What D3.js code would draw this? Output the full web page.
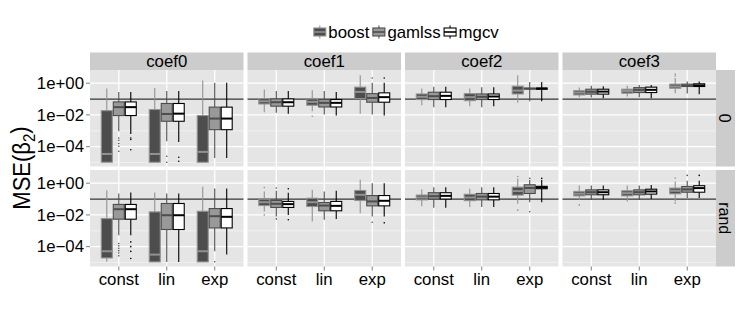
<!DOCTYPE html>
<html>
<head>
<meta charset="utf-8">
<script src="https://cdn.jsdelivr.net/npm/d3@7"></script>
<style>
  body { margin: 0; background: #fff; }
  text { font-family: "Liberation Sans", Arial, sans-serif; fill: #000; }
</style>
</head>
<body>
<div id="chart"></div>
<script>
// Facets, categories, groups
const coefs = ["coef0", "coef1", "coef2", "coef3"];
const rowLabels = ["0", "rand"];
const designs = ["const", "lin", "exp"];
const methods = ["boost", "gamlss", "mgcv"];
const yTicks = [1, 1e-2, 1e-4];
const yTickLabels = ["1e+00", "1e\u221202", "1e\u221204"];
const yMinor = [1e-1, 1e-3, 1e-5];
const refLine = 0.1;

// log10(MSE) per box: [lower whisker, q1, median, q3, upper whisker]
// order: const (boost, gamlss, mgcv), lin (...), exp (...)
const stats_0_coef0 = [
  [-5.0, -4.98, -4.46, -1.73, -0.34], [-3.03, -2.04, -1.51, -1.18, -0.55], [-3.2, -2.04, -1.51, -1.18, -0.55],
  [-5.0, -4.98, -4.46, -1.66, -0.30], [-3.66, -2.4, -1.94, -1.28, -0.5], [-3.7, -2.4, -1.92, -1.28, -0.5],
  [-5.0, -4.98, -4.33, -2.04, 0.17], [-4.71, -2.93, -2.23, -1.51, 0.02], [-4.71, -2.93, -2.23, -1.51, 0.02]
];
const stats_0_coef1 = [
  [-1.83, -1.31, -1.14, -0.97, -0.4], [-1.87, -1.45, -1.2, -0.99, -0.5], [-1.92, -1.45, -1.2, -0.99, -0.5],
  [-1.77, -1.39, -1.18, -0.99, -0.44], [-1.98, -1.5, -1.24, -1.03, -0.5], [-2.04, -1.5, -1.24, -1.03, -0.55],
  [-1.92, -0.97, -0.55, -0.25, 0.5], [-1.98, -1.2, -0.93, -0.66, 0.02], [-2.04, -1.2, -0.88, -0.61, 0.02]
];
const stats_0_coef2 = [
  [-1.39, -1.03, -0.86, -0.68, -0.34], [-1.51, -1.03, -0.82, -0.57, -0.23], [-1.51, -1.03, -0.8, -0.57, -0.23],
  [-1.45, -1.1, -0.88, -0.66, -0.34], [-1.51, -1.03, -0.86, -0.68, -0.25], [-1.45, -1.03, -0.84, -0.68, -0.25],
  [-1.24, -0.68, -0.47, -0.19, 0.5], [-1.14, -0.37, -0.34, -0.32, 0.08], [-1.14, -0.38, -0.34, -0.31, 0.08]
];
const stats_0_coef3 = [
  [-0.88, -0.74, -0.59, -0.47, -0.28], [-0.9, -0.69, -0.54, -0.38, -0.17], [-0.95, -0.69, -0.53, -0.38, -0.2],
  [-0.84, -0.63, -0.49, -0.38, -0.17], [-0.88, -0.59, -0.42, -0.28, -0.11], [-0.95, -0.59, -0.42, -0.25, -0.11],
  [-0.63, -0.32, -0.21, -0.06, 0.32], [-0.65, -0.21, -0.15, -0.06, 0.1], [-0.7, -0.21, -0.14, -0.04, 0.1]
];
const stats_rand_coef0 = [
  [-4.95, -4.71, -4.29, -2.23, -0.44], [-3.28, -2.27, -1.64, -1.34, -0.65], [-3.28, -2.27, -1.64, -1.34, -0.59],
  [-4.96, -4.96, -4.5, -1.81, -0.59], [-4.96, -2.92, -2.02, -1.28, -0.65], [-4.96, -2.92, -2.02, -1.28, -0.65],
  [-4.96, -4.96, -4.29, -1.77, -0.23], [-4.29, -2.82, -2.08, -1.6, -0.33], [-4.5, -2.82, -2.12, -1.6, -0.33]
];
const stats_rand_coef1 = [
  [-1.79, -1.41, -1.2, -1.01, -0.52], [-2.1, -1.53, -1.3, -1.09, -0.48], [-2.0, -1.53, -1.32, -1.15, -0.61],
  [-2.42, -1.47, -1.2, -0.95, -0.42], [-2.31, -1.74, -1.41, -1.22, -0.52], [-2.25, -1.74, -1.43, -1.15, -0.48],
  [-1.89, -1.09, -0.73, -0.46, 0.21], [-2.1, -1.43, -1.15, -0.78, 0.0], [-2.1, -1.43, -1.11, -0.78, 0.0]
];
const stats_rand_coef2 = [
  [-1.45, -1.05, -0.9, -0.75, -0.4], [-1.55, -1.0, -0.82, -0.6, -0.25], [-1.55, -1.0, -0.8, -0.6, -0.25],
  [-1.5, -1.1, -0.9, -0.7, -0.35], [-1.5, -1.05, -0.85, -0.65, -0.25], [-1.5, -1.05, -0.85, -0.65, -0.25],
  [-1.3, -0.75, -0.5, -0.25, 0.3], [-1.2, -0.65, -0.3, -0.1, 0.2], [-1.2, -0.35, -0.27, -0.2, 0.2]
];
const stats_rand_coef3 = [
  [-1.05, -0.8, -0.66, -0.52, -0.15], [-1.05, -0.73, -0.57, -0.42, -0.15], [-1.05, -0.73, -0.57, -0.42, -0.15],
  [-1.15, -0.8, -0.63, -0.48, -0.15], [-1.05, -0.73, -0.57, -0.42, -0.15], [-1.0, -0.69, -0.52, -0.38, -0.12],
  [-1.15, -0.67, -0.48, -0.31, 0.1], [-0.93, -0.57, -0.39, -0.21, 0.15], [-0.93, -0.57, -0.31, -0.16, 0.15]
];
const panelStats = [
  [stats_0_coef0, stats_0_coef1, stats_0_coef2, stats_0_coef3],
  [stats_rand_coef0, stats_rand_coef1, stats_rand_coef2, stats_rand_coef3]
];

// outliers: [row, coef, design, method, log10 MSE]
const outliers = [
  [0, 0, 0, 1, -3.45], [0, 0, 0, 1, -3.6], [0, 0, 0, 1, -3.8], [0, 0, 0, 1, -3.97], [0, 0, 0, 1, -4.29],
  [0, 0, 0, 2, -3.45], [0, 0, 0, 2, -3.55], [0, 0, 0, 2, -4.19],
  [0, 0, 1, 1, -4.6], [0, 0, 1, 1, -4.98], [0, 0, 1, 2, -4.67], [0, 0, 1, 2, -4.92],
  [0, 1, 1, 0, -2.08], [0, 1, 2, 1, 0.33], [0, 1, 2, 2, 0.33],
  [0, 3, 2, 0, 0.45], [0, 3, 2, 0, 0.57],
  [1, 0, 0, 1, -3.8], [1, 0, 0, 1, -3.95], [1, 0, 0, 1, -4.1], [1, 0, 0, 1, -4.25], [1, 0, 0, 1, -4.4], [1, 0, 0, 1, -4.58],
  [1, 0, 0, 2, -3.7], [1, 0, 0, 2, -4.0], [1, 0, 0, 2, -4.3], [1, 0, 0, 2, -4.75], [1, 0, 2, 1, -4.95],
  [1, 1, 0, 0, -0.27], [1, 1, 0, 0, -2.0], [1, 1, 0, 1, -0.3], [1, 1, 0, 1, -2.25], [1, 1, 0, 2, -0.35], [1, 1, 0, 2, -2.3],
  [1, 1, 2, 1, -2.46], [1, 1, 2, 2, -2.5],
  [1, 2, 2, 0, 0.42], [1, 2, 2, 1, 0.3], [1, 2, 2, 2, 0.3], [1, 2, 2, 0, -1.7], [1, 2, 2, 1, -1.8],
  [1, 3, 0, 0, -1.37], [1, 3, 2, 0, 0.32], [1, 3, 2, 0, -1.26], [1, 3, 2, 1, 0.49], [1, 3, 2, 2, 0.49]
];

// Layout
const W = 747, H = 312;
const SX = 1.05; // glyphs in the picture are a little wide
const PLOT = {LEFT: 90, TOP: 70, PW: 153.5, PH: 96.5, GAPX: 4, GAPY: 3.5};
const STRIP = 17.5;
const FONT = 16;

const fillCol = {boost: "#4d4d4d", gamlss: "#999999", mgcv: "#ffffff"};
const lineCol = {boost: "#929292", gamlss: "#4d4d4d", mgcv: "#000000"};

const svg = d3.select("#chart").append("svg").attr("width", W).attr("height", H);

// Scales (shared by every panel)
const y = d3.scaleLog().domain([10 ** -5.25, 10 ** 0.83]).range([PLOT.PH, 0]);
const unit = PLOT.PW / 3.2;
const x = d3.scalePoint().domain(designs).range([0.6 * unit, 2.6 * unit]);
const dodge = d3.scaleBand().domain(methods).range([-0.375 * unit, 0.375 * unit]);

function addText(parent, px, py, str, size, anchor, rot) {
  return parent.append("text")
    .attr("transform", `translate(${px},${py}) scale(${SX},1)` + (rot ? ` rotate(${rot})` : ""))
    .attr("text-anchor", anchor)
    .attr("font-size", size)
    .text(str);
}

const panelLeft = c => PLOT.LEFT + c * (PLOT.PW + PLOT.GAPX);
const panelTop = r => PLOT.TOP + r * (PLOT.PH + PLOT.GAPY);

rowLabels.forEach((rl, r) => {
  coefs.forEach((cf, c) => {
    const g = svg.append("g").attr("transform", `translate(${panelLeft(c)},${panelTop(r)})`);
    g.append("rect").attr("width", PLOT.PW).attr("height", PLOT.PH).attr("fill", "#e5e5e5");

    g.selectAll(".minor").data(yMinor.filter(v => v >= y.domain()[0])).join("line")
      .attr("x1", 0).attr("x2", PLOT.PW)
      .attr("y1", d => y(d)).attr("y2", d => y(d))
      .attr("stroke", "#f2f2f2").attr("stroke-width", 0.8);
    g.selectAll(".major").data(yTicks).join("line")
      .attr("x1", 0).attr("x2", PLOT.PW)
      .attr("y1", d => y(d)).attr("y2", d => y(d))
      .attr("stroke", "#fff").attr("stroke-width", 1.3);
    g.selectAll(".vgrid").data(designs).join("line")
      .attr("x1", d => x(d)).attr("x2", d => x(d))
      .attr("y1", 0).attr("y2", PLOT.PH)
      .attr("stroke", "#fff").attr("stroke-width", 1.3);

    g.append("line")
      .attr("x1", 0).attr("x2", PLOT.PW)
      .attr("y1", y(refLine)).attr("y2", y(refLine))
      .attr("stroke", "#333").attr("stroke-width", 1.3);

    const boxes = [];
    panelStats[r][c].forEach((s, i) => {
      boxes.push({design: designs[Math.floor(i / 3)], method: methods[i % 3], s: s.map(e => 10 ** e)});
    });

    const bx = g.selectAll(".box").data(boxes).join("g")
      .attr("transform", d => `translate(${x(d.design) + dodge(d.method)},0)`);
    const bw = dodge.bandwidth();

    bx.append("line")
      .attr("x1", bw / 2).attr("x2", bw / 2)
      .attr("y1", d => y(d.s[4])).attr("y2", d => y(d.s[3]))
      .attr("stroke", d => lineCol[d.method]).attr("stroke-width", 1.1);
    bx.append("line")
      .attr("x1", bw / 2).attr("x2", bw / 2)
      .attr("y1", d => y(d.s[1])).attr("y2", d => y(d.s[0]))
      .attr("stroke", d => lineCol[d.method]).attr("stroke-width", 1.1);
    bx.append("rect")
      .attr("x", 0.5).attr("width", bw - 1)
      .attr("y", d => y(d.s[3]))
      .attr("height", d => Math.max(0.5, y(d.s[1]) - y(d.s[3])))
      .attr("fill", d => fillCol[d.method])
      .attr("stroke", d => lineCol[d.method]).attr("stroke-width", 1.1);
    bx.append("line")
      .attr("x1", 0.5).attr("x2", bw - 0.5)
      .attr("y1", d => y(d.s[2])).attr("y2", d => y(d.s[2]))
      .attr("stroke", d => lineCol[d.method]).attr("stroke-width", 2);

    g.selectAll(".out").data(outliers.filter(o => o[0] === r && o[1] === c)).join("circle")
      .attr("cx", o => x(designs[o[2]]) + dodge(methods[o[3]]) + bw / 2)
      .attr("cy", o => y(10 ** o[4]))
      .attr("r", 0.8)
      .attr("fill", o => lineCol[methods[o[3]]]);

    // strips
    if (r === 0) {
      svg.append("rect")
        .attr("x", panelLeft(c)).attr("y", PLOT.TOP - STRIP)
        .attr("width", PLOT.PW).attr("height", STRIP).attr("fill", "#cccccc");
      addText(svg, panelLeft(c) + PLOT.PW / 2, PLOT.TOP - STRIP / 2, cf, FONT, "middle").attr("dy", "0.36em");
    }
    if (c === coefs.length - 1) {
      svg.append("rect")
        .attr("x", panelLeft(c) + PLOT.PW).attr("y", panelTop(r))
        .attr("width", 19).attr("height", PLOT.PH).attr("fill", "#cccccc");
      addText(svg, panelLeft(c) + PLOT.PW + 9.5, panelTop(r) + PLOT.PH / 2, rl, FONT, "middle", 90).attr("dy", "0.36em");
    }
    // y axis
    if (c === 0) {
      yTicks.forEach((t, k) => {
        svg.append("line")
          .attr("x1", PLOT.LEFT - 4).attr("x2", PLOT.LEFT)
          .attr("y1", panelTop(r) + y(t)).attr("y2", panelTop(r) + y(t))
          .attr("stroke", "#7f7f7f");
        addText(svg, PLOT.LEFT - 6, panelTop(r) + y(t), yTickLabels[k], FONT, "end").attr("dy", "0.36em");
      });
    }
    // x axis
    if (r === rowLabels.length - 1) {
      designs.forEach(d => {
        const xx = panelLeft(c) + x(d);
        const yy = panelTop(r) + PLOT.PH;
        svg.append("line").attr("x1", xx).attr("x2", xx).attr("y1", yy).attr("y2", yy + 4)
          .attr("stroke", "#7f7f7f");
        addText(svg, xx, yy + 18, d, FONT, "middle");
      });
    }
  });
});

// y axis title
const title = svg.append("text")
  .attr("transform", `translate(30,168) scale(${SX},1) rotate(-90)`)
  .attr("text-anchor", "middle")
  .attr("font-size", 22);
title.append("tspan").text("MSE(\u03b2");
title.append("tspan").attr("font-size", 15).attr("dy", "0.3em").text("2");
title.append("tspan").attr("dy", "-0.3em").text(")");

// legend
const legend = svg.append("g");
let lx = 0;
methods.forEach(m => {
  const item = legend.append("g").attr("transform", `translate(${lx},0)`);
  item.append("line").attr("x1", 6.5).attr("x2", 6.5).attr("y1", 25.5).attr("y2", 38.5)
    .attr("stroke", lineCol[m]).attr("stroke-width", 1.1);
  item.append("rect").attr("x", 0.5).attr("y", 28).attr("width", 12).attr("height", 8)
    .attr("fill", fillCol[m]).attr("stroke", lineCol[m]).attr("stroke-width", 1.1);
  item.append("line").attr("x1", 0.5).attr("x2", 12.5).attr("y1", 32).attr("y2", 32)
    .attr("stroke", lineCol[m]).attr("stroke-width", 1.6);
  const t = addText(item, 15, 37.5, m, FONT, "start");
  lx += 15 + t.node().getComputedTextLength() * SX + 3;
});
legend.attr("transform", `translate(${406 - (lx - 3) / 2},0)`);
</script>
</body>
</html>
